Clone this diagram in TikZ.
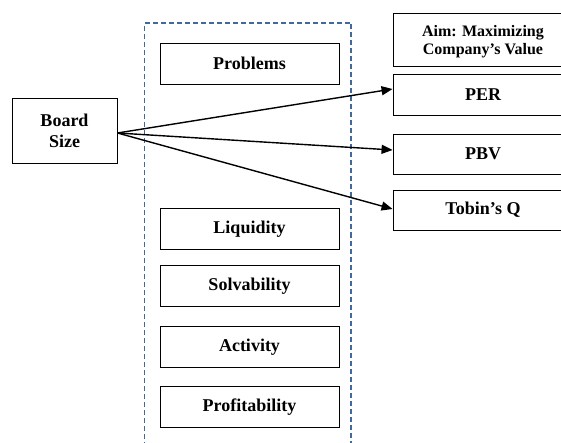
\documentclass[tikz,border=0pt]{standalone}
\usepackage{fontspec}
\setmainfont{Liberation Serif}
\usetikzlibrary{arrows.meta}
\definecolor{dashblue}{RGB}{65,105,155}
\tikzset{
  box/.style={draw, line width=0.9pt, minimum width=179pt, minimum height=41pt,
    inner sep=0pt, align=center, font=\fontsize{18}{21}\selectfont\bfseries},
  group/.style={draw=dashblue, line width=1.6pt, dash pattern=on 5pt off 3pt,
    minimum width=206.5pt, minimum height=440pt, inner sep=0pt},
  link/.style={line width=1.4pt, -{Triangle[length=11pt,width=9pt]}}
}

\begin{document}
\begin{tikzpicture}[x=1pt,y=-1pt]
   \useasboundingbox (0,0) rectangle (561,443);
   \clip (0,0) rectangle (561,443);
   % dashed group of indicators
   \node[group] (grp) at (247.75,243) {};
   \node[box, minimum width=105pt, minimum height=65pt] (board) at (64.5,130.5) {Board\\Size};
   \node[box] (problems) at (249.5,63.5)  {Problems};
   \node[box] (liquidity) at (249.5,228.8) {Liquidity};
   \node[box] (solv) at (249.5,285.7) {Solvability};
   \node[box] (activity) at (249.5,346.7) {Activity};
   \node[box] (profit) at (249.5,406.8) {Profitability};
   % company value side
   \node[box, minimum width=180pt, minimum height=53pt,
         font=\fontsize{16}{17.5}\selectfont\bfseries] (aim) at (483,39.5) {\rule{0pt}{15pt}Aim: Maximizing\\Company’s Value};
   \node[box, minimum width=180pt] (per) at (483,94.5) {PER};
   \node[box, minimum width=180pt, minimum height=40pt] (pbv) at (483,154) {PBV};
   \node[box, minimum width=180pt, minimum height=40pt] (tobin) at (483,210) {Tobin’s Q};
   \draw[link] ([yshift=-2.5pt]board.east) -- ([yshift=5.5pt]per.west);
   \draw[link] ([yshift=-2.5pt]board.east) -- ([yshift=4pt]pbv.west);
   \draw[link] ([yshift=-2.5pt]board.east) -- ([yshift=1pt]tobin.west);
\end{tikzpicture}
\end{document}
